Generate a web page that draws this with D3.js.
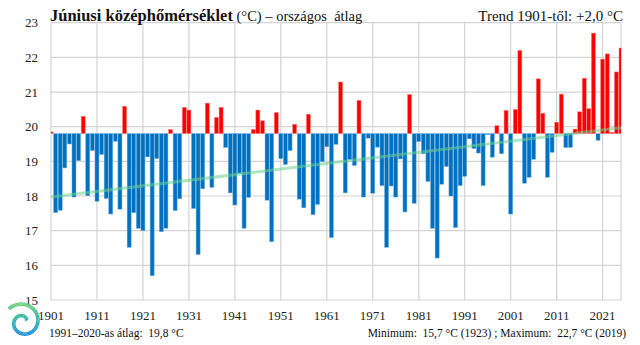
<!DOCTYPE html>
<html><head><meta charset="utf-8">
<script src="https://cdn.jsdelivr.net/npm/d3@7"></script>
<style>html,body{margin:0;padding:0;background:#fff;} svg{display:block;} text{font-family:"Liberation Serif","Times New Roman",serif;white-space:pre;}</style>
</head><body><svg id="c" width="640" height="345"></svg>
<script>
const firstYear = 1901, lastYear = 2025;
const years = d3.range(firstYear, lastYear + 1);
const values = [
19.85,17.52,17.59,18.81,19.50,17.97,19.02,20.30,18.01,19.31,
17.85,19.20,17.93,17.48,19.58,17.62,20.59,16.52,17.52,17.07,
17.00,19.13,15.70,19.08,16.97,17.07,19.92,17.58,17.92,20.56,
20.48,17.64,16.31,18.21,20.68,18.25,20.27,20.56,19.40,18.09,
17.74,18.65,17.07,17.96,19.92,20.48,20.17,17.88,16.68,20.41,
19.08,18.91,19.31,20.07,17.91,17.66,20.36,17.46,17.76,18.99,
19.42,16.80,19.49,21.29,18.09,19.05,18.88,20.76,17.97,19.67,
18.08,19.41,18.30,16.52,18.29,17.97,19.07,17.54,20.93,17.79,
19.57,19.22,18.42,17.07,16.21,18.34,18.85,18.00,17.09,18.30,
18.57,19.65,19.37,19.24,18.30,19.77,19.12,20.03,19.22,20.47,
17.48,20.50,22.20,18.37,18.54,19.06,21.38,20.39,18.54,19.26,
20.13,20.94,19.40,19.40,19.93,20.43,21.40,20.52,22.70,19.61,
21.95,22.10,19.84,21.58,22.27];
const baseline = 19.8;
const trendYears = [1901, 2025];
const trendValues = [17.97, 19.97];
const yTicks = [15,16,17,18,19,20,21,22,23];
const xTicks = [1901,1911,1921,1931,1941,1951,1961,1971,1981,1991,2001,2011,2021];
const titleBold = "Júniusi középhőmérséklet";
const titleRest = " (°C) – országos  átlag";
const trendLabel = "Trend 1901-től: +2,0 °C";
const footLeft = "1991–2020-as átlag:  19,8 °C";
const footRight = "Minimum:  15,7 °C (1923) ; Maximum:  22,7 °C (2019)";

const svg = d3.select("#c");
const L = 51, R = 621, T = 22.7, B = 300;
const x = d3.scaleLinear().domain([firstYear, lastYear]).range([L, R]);
const y = d3.scaleLinear().domain([15, 23]).range([B, T]);
const gridCol = "#d3d3d3";

// grid
const g = svg.append("g");
g.selectAll("line.h").data(yTicks).join("line")
  .attr("x1", L).attr("x2", R).attr("y1", d => y(d)).attr("y2", d => y(d))
  .attr("stroke", gridCol).attr("stroke-width", 1.2);
g.selectAll("line.v").data(xTicks.concat([lastYear])).join("line")
  .attr("x1", d => x(d)).attr("x2", d => x(d)).attr("y1", T).attr("y2", B)
  .attr("stroke", gridCol).attr("stroke-width", 1.2);

// clip
svg.append("clipPath").attr("id","clip").append("rect")
  .attr("x", L).attr("y", T - 2).attr("width", R - L).attr("height", B - T + 4);

const bw = 4.0;
const bars = svg.append("g").attr("clip-path","url(#clip)");
bars.selectAll("rect").data(years.map((yr,i)=>({yr, v: values[i]}))).join("rect")
  .attr("x", d => x(d.yr) - bw/2)
  .attr("width", bw)
  .attr("y", d => d.v >= baseline ? y(d.v) : y(baseline))
  .attr("height", d => Math.max(0.8, Math.abs(y(d.v) - y(baseline))))
  .attr("fill", d => d.v >= baseline ? "#ff0000" : "#0070c0")
  .attr("stroke", d => d.v >= baseline ? "#ff8080" : "#6aaee0")
  .attr("stroke-width", 0.5);

// trend
svg.append("line")
  .attr("x1", x(trendYears[0])).attr("y1", y(trendValues[0]))
  .attr("x2", x(trendYears[1])).attr("y2", y(trendValues[1]))
  .attr("stroke", "#6fd08f").attr("stroke-opacity", 0.55).attr("stroke-width", 3);

// axis labels
svg.selectAll("text.yl").data(yTicks).join("text")
  .attr("x", 38).attr("y", d => y(d)).attr("dy", "0.35em")
  .attr("text-anchor", "end").attr("font-size", 13).attr("fill", "#222").text(d => d);
svg.selectAll("text.xl").data(xTicks).join("text")
  .attr("x", d => x(d)).attr("y", 320)
  .attr("text-anchor", "middle").attr("font-size", 13).attr("fill", "#222").text(d => d);

// titles
const t = svg.append("text").attr("x", 50).attr("y", 21).attr("fill", "#111");
t.append("tspan").attr("font-weight", "bold").attr("font-size", 16.5).text(titleBold);
t.append("tspan").attr("font-size", 14.5).text(titleRest);
svg.append("text").attr("x", 623).attr("y", 21).attr("text-anchor","end")
  .attr("font-size", 15).attr("fill", "#111").text(trendLabel);
svg.append("text").attr("x", 49).attr("y", 337).attr("font-size", 11.5).attr("fill","#111").text(footLeft);
svg.append("text").attr("x", 626).attr("y", 337).attr("text-anchor","end").attr("font-size", 11.5).attr("fill","#111").text(footRight);

// logo spiral
const defs = svg.append("defs");
const lg = defs.append("linearGradient").attr("id","lg").attr("x1","0").attr("y1","0").attr("x2","0").attr("y2","1");
lg.append("stop").attr("offset","0").attr("stop-color","#6fcf7a");
lg.append("stop").attr("offset","0.5").attr("stop-color","#2fb3b0");
lg.append("stop").attr("offset","1").attr("stop-color","#1f8fd6");
const cx = 23, cy = 322;
[0, 1.3, 2.6].forEach(off => {
  const pts = d3.range(0, 2.6 * Math.PI, 0.05).map(a => {
    const r = 3 + off * 0.9 + a * 1.85;
    const ang = -a - 0.5;
    return [cx + r * Math.cos(ang), cy + r * Math.sin(ang)];
  });
  svg.append("path").attr("d", d3.line().curve(d3.curveCatmullRom)(pts))
    .attr("fill","none").attr("stroke","url(#lg)").attr("stroke-width", 1.3).attr("stroke-linecap","round");
});
</script></body></html>
